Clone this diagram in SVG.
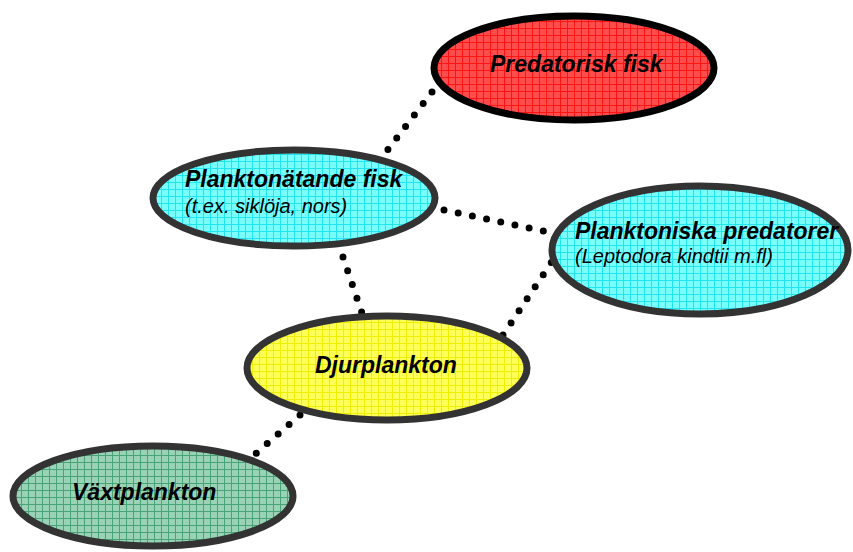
<svg xmlns="http://www.w3.org/2000/svg" width="853" height="552" viewBox="0 0 853 552">
<defs>
<pattern id="pRed" width="7" height="7" patternUnits="userSpaceOnUse">
<rect width="7" height="7" fill="#ff4c4c"/>
<path d="M0 0.5H7M0.5 0V7" stroke="#ff1414" stroke-width="1"/>
</pattern>
<pattern id="pCyan" width="7" height="7" patternUnits="userSpaceOnUse">
<rect width="7" height="7" fill="#7affff"/>
<path d="M0 0.5H7M0.5 0V7" stroke="#22e4ee" stroke-width="1"/>
</pattern>
<pattern id="pYellow" width="7" height="7" patternUnits="userSpaceOnUse">
<rect width="7" height="7" fill="#ffff5a"/>
<path d="M0 0.5H7M0.5 0V7" stroke="#eeee00" stroke-width="1"/>
</pattern>
<pattern id="pGreen" width="7" height="7" patternUnits="userSpaceOnUse">
<rect width="7" height="7" fill="#9ad2b6"/>
<path d="M0 0.5H7M0.5 0V7" stroke="#48a478" stroke-width="1"/>
</pattern>
</defs>
<style>
.dots{stroke:#000;stroke-width:7;stroke-linecap:round;stroke-dasharray:0 14.5;fill:none}
.node{stroke:#333;stroke-width:7}
.t{font-family:"Liberation Sans",Arial,sans-serif;font-style:italic;fill:#000}
.b{font-weight:bold;font-size:23px}
.s{font-size:20px}
</style>
<g id="connectors">
<line class="dots" x1="432" y1="92" x2="383" y2="156"/>
<line class="dots" x1="444" y1="210" x2="548" y2="232"/>
<line class="dots" x1="343" y1="257" x2="363" y2="316"/>
<line class="dots" x1="503" y1="335" x2="555" y2="257"/>
<line class="dots" x1="300" y1="415" x2="253" y2="456"/>
</g>
<g id="predatorisk">
<ellipse cx="574" cy="68" rx="140" ry="52" fill="url(#pRed)" stroke="#000" stroke-width="7"/>
<text class="t b" x="490" y="72">Predatorisk fisk</text>
</g>
<g id="planktonatande">
<ellipse class="node" cx="294" cy="198" rx="141" ry="48" fill="url(#pCyan)"/>
<text class="t b" x="185" y="187">Planktonätande fisk</text>
<text class="t s" x="185" y="213">(t.ex. siklöja, nors)</text>
</g>
<g id="planktoniska">
<ellipse class="node" cx="700" cy="250" rx="148" ry="64" fill="url(#pCyan)"/>
<text class="t b" x="575" y="239">Planktoniska predatorer</text>
<text class="t s" x="575" y="263">(Leptodora kindtii m.fl)</text>
</g>
<g id="djurplankton">
<ellipse class="node" cx="387" cy="368" rx="140" ry="52" fill="url(#pYellow)"/>
<text class="t b" x="315" y="373">Djurplankton</text>
</g>
<g id="vaxtplankton">
<ellipse class="node" cx="153" cy="496" rx="140" ry="50" fill="url(#pGreen)"/>
<text class="t b" x="72" y="500">Växtplankton</text>
</g>
</svg>
